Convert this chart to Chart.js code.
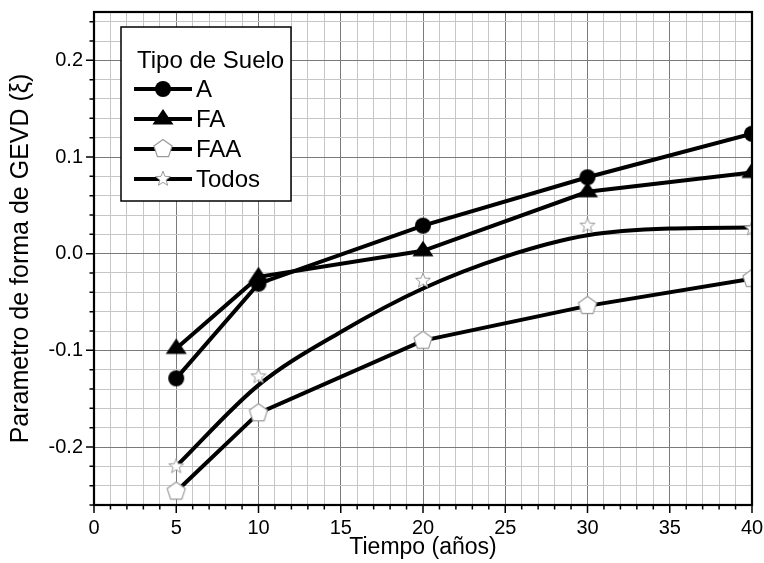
<!DOCTYPE html>
<html>
<head>
<meta charset="utf-8">
<script src="https://cdn.jsdelivr.net/npm/chart.js@4.4.0/dist/chart.umd.min.js"></script>
<style>
html,body{margin:0;padding:0;background:#ffffff;}
#wrap{width:764px;height:563px;position:relative;}
</style>
</head>
<body>
<div id="wrap"><canvas id="c" width="764" height="563"></canvas></div>
<script>
// ---- data ----
const tiempo = [5, 10, 20, 30, 40];
const serieA = [-0.129, -0.031, 0.029, 0.079, 0.124];
const serieFA = [-0.098, -0.024, 0.003, 0.064, 0.084];
const serieFAA = [-0.246, -0.165, -0.090, -0.054, -0.026];
const serieTodos = [-0.220, -0.127, -0.028, 0.029, 0.026];
const ajusteTiempo = [5, 10, 15, 20, 25, 30, 35, 40];
const ajusteTodos = [-0.220, -0.136, -0.081, -0.036, -0.003, 0.019, 0.026, 0.027];
const serieNames = ['A', 'FA', 'FAA', 'Todos'];
const legendTitle = 'Tipo de Suelo';
const xTitle = 'Tiempo (años)';
const yTitle = 'Parametro de forma de GEVD (ξ)';
const xMajorTicks = [0, 5, 10, 15, 20, 25, 30, 35, 40];
const yMajorTicks = [-0.2, -0.1, 0.0, 0.1, 0.2];
const xRange = [0, 40];
const yRange = [-0.26, 0.25];
const xMinorStep = 1;
const yMinorStep = 0.02;

const FONT = '"Liberation Sans", Arial, Helvetica, sans-serif';

function pts(xs, ys) { return xs.map((x, i) => ({x: x, y: ys[i]})); }

// ---- marker images ----
function makeMarker(kind) {
  const c = document.createElement('canvas');
  c.width = 26; c.height = 26;
  const g = c.getContext('2d');
  g.translate(13, 13);
  g.beginPath();
  if (kind === 'circle') {
    g.arc(0, 0, 8, 0, Math.PI * 2);
    g.fillStyle = '#000'; g.fill();
  } else if (kind === 'triangle') {
    g.moveTo(0, -10); g.lineTo(10.5, 5.5); g.lineTo(-10.5, 5.5); g.closePath();
    g.fillStyle = '#000'; g.fill();
  } else if (kind === 'pentagon') {
    const r = 9.5;
    for (let k = 0; k < 5; k++) {
      const a = -Math.PI / 2 + k * 2 * Math.PI / 5;
      const px = r * Math.cos(a), py = r * Math.sin(a);
      if (k === 0) g.moveTo(px, py); else g.lineTo(px, py);
    }
    g.closePath();
    g.fillStyle = '#fff'; g.fill();
    g.lineWidth = 1.2; g.strokeStyle = '#9a9a9a'; g.stroke();
  } else if (kind === 'star') {
    const ro = 7.8, ri = 3.3;
    for (let k = 0; k < 10; k++) {
      const a = -Math.PI / 2 + k * Math.PI / 5;
      const r = (k % 2 === 0) ? ro : ri;
      const px = r * Math.cos(a), py = r * Math.sin(a);
      if (k === 0) g.moveTo(px, py); else g.lineTo(px, py);
    }
    g.closePath();
    g.fillStyle = '#fff'; g.fill();
    g.lineWidth = 1; g.strokeStyle = '#9a9a9a'; g.stroke();
  }
  return c;
}
const mCircle = makeMarker('circle');
const mTriangle = makeMarker('triangle');
const mPentagon = makeMarker('pentagon');
const mStar = makeMarker('star');
const legendMarkers = [mCircle, mTriangle, mPentagon, mStar];

function isMajorX(v) { return xMajorTicks.some(t => Math.abs(t - v) < 1e-9); }
function isMajorY(v) { return yMajorTicks.some(t => Math.abs(t - v) < 1e-9); }

function minorValues(lo, hi, step) {
  const out = [];
  const n = Math.floor((hi - lo) / step + 1e-9);
  for (let i = 0; i <= n; i++) out.push(Math.round((lo + i * step) * 1e6) / 1e6);
  return out;
}

// ---- plugins: frame, tick marks, legend ----
const framePlugin = {
  id: 'frameTicks',
  afterDatasetsDraw(chart) {
    const ctx = chart.ctx, a = chart.chartArea;
    const xs = chart.scales.x, ys = chart.scales.y;
    ctx.save();
    ctx.strokeStyle = '#000';
    ctx.lineWidth = 1.5;
    ctx.beginPath();
    xs.ticks.forEach(t => {
      const px = xs.getPixelForValue(t.value);
      const len = isMajorX(t.value) ? 8 : 4.5;
      ctx.moveTo(px, a.bottom); ctx.lineTo(px, a.bottom + len);
    });
    ys.ticks.forEach(t => {
      const py = ys.getPixelForValue(t.value);
      const len = isMajorY(t.value) ? 8 : 4.5;
      ctx.moveTo(a.left, py); ctx.lineTo(a.left - len, py);
    });
    ctx.stroke();
    ctx.lineWidth = 2.2;
    ctx.strokeRect(a.left, a.top, a.right - a.left, a.bottom - a.top);
    ctx.restore();
  },
  afterDraw(chart) {
    const ctx = chart.ctx, a = chart.chartArea;
    const bx = a.left + 27, by = a.top + 15, bw = 170, bh = 174;
    ctx.save();
    ctx.fillStyle = '#fff';
    ctx.fillRect(bx, by, bw, bh);
    ctx.lineWidth = 1.5; ctx.strokeStyle = '#000';
    ctx.strokeRect(bx, by, bw, bh);
    ctx.fillStyle = '#000';
    ctx.font = '24px ' + FONT;
    ctx.textBaseline = 'middle'; ctx.textAlign = 'left';
    ctx.fillText(legendTitle, bx + 16, by + 34);
    serieNames.forEach((name, i) => {
      const cy = by + 62 + i * 30;
      ctx.beginPath();
      ctx.lineWidth = 4; ctx.strokeStyle = '#000';
      ctx.moveTo(bx + 13, cy); ctx.lineTo(bx + 71, cy);
      ctx.stroke();
      const m = legendMarkers[i];
      ctx.drawImage(m, bx + 42 - m.width / 2, cy - m.height / 2);
      ctx.fillText(name, bx + 75, cy + 1);
    });
    ctx.restore();
  }
};

const gridColor = (major) => major ? '#7a7a7a' : '#c6c6c6';

const chart = new Chart(document.getElementById('c'), {
  type: 'line',
  data: {
    datasets: [
      { label: 'Todos', data: pts(tiempo, serieTodos), showLine: false,
        pointStyle: mStar, pointRadius: 8, borderColor: '#000', backgroundColor: '#fff' },
      { label: 'A', data: pts(tiempo, serieA), borderColor: '#000', borderWidth: 4,
        pointStyle: mCircle, pointRadius: 8, tension: 0, fill: false },
      { label: 'FA', data: pts(tiempo, serieFA), borderColor: '#000', borderWidth: 4,
        pointStyle: mTriangle, pointRadius: 8, tension: 0, fill: false },
      { label: 'FAA', data: pts(tiempo, serieFAA), borderColor: '#000', borderWidth: 4,
        pointStyle: mPentagon, pointRadius: 8, tension: 0, fill: false },
      { label: 'Todos (ajuste)', data: pts(ajusteTiempo, ajusteTodos), borderColor: '#000', borderWidth: 4,
        pointRadius: 0, cubicInterpolationMode: 'monotone', fill: false }
    ]
  },
  options: {
    responsive: false,
    animation: false,
    devicePixelRatio: 1,
    layout: { padding: { top: 12, right: 11, bottom: 2, left: 0 } },
    plugins: { legend: { display: false }, tooltip: { enabled: false } },
    scales: {
      x: {
        type: 'linear', min: xRange[0], max: xRange[1],
        afterBuildTicks: s => { s.ticks = minorValues(xRange[0], xRange[1], xMinorStep).map(v => ({value: v})); },
        afterFit: s => { s.height = 56; s.paddingLeft = 0; s.paddingRight = 0; },
        border: { display: false },
        grid: { drawTicks: false, lineWidth: 1, color: c => gridColor(c.tick && isMajorX(c.tick.value)) },
        ticks: { autoSkip: false, maxRotation: 0, padding: 11, color: '#000',
          font: { family: FONT, size: 20 },
          callback: v => isMajorX(v) ? String(v) : '' },
        title: { display: true, text: xTitle, color: '#000', font: { family: FONT, size: 23 },
          padding: { top: 0, bottom: 0 } }
      },
      y: {
        type: 'linear', min: yRange[0], max: yRange[1],
        afterBuildTicks: s => { s.ticks = minorValues(yRange[0], 0.24, yMinorStep).map(v => ({value: v})); },
        afterFit: s => { s.width = 94; s.paddingTop = 0; s.paddingBottom = 0; },
        border: { display: false },
        grid: { drawTicks: false, lineWidth: 1, color: c => gridColor(c.tick && isMajorY(c.tick.value)) },
        ticks: { autoSkip: false, padding: 11, color: '#000',
          font: { family: FONT, size: 20 },
          callback: v => isMajorY(v) ? v.toFixed(1) : '' },
        title: { display: true, text: yTitle, color: '#000', font: { family: FONT, size: 25 },
          padding: { top: 6, bottom: 0 } }
      }
    }
  },
  plugins: [framePlugin]
});
</script>
</body>
</html>
